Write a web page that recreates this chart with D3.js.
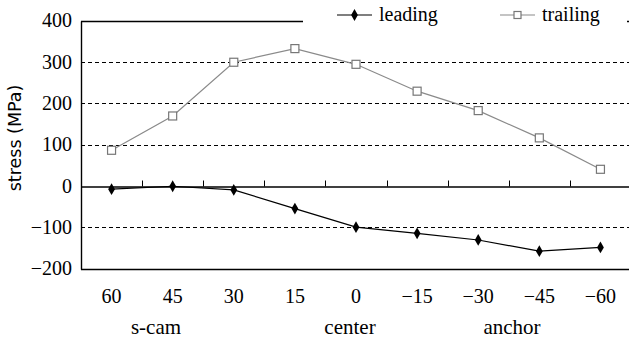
<!DOCTYPE html>
<html>
<head>
<meta charset="utf-8">
<script src="https://cdn.jsdelivr.net/npm/d3@7"></script>
</head>
<body style="margin:0">
<svg id="chart" width="629" height="343" font-family="Liberation Serif"></svg>
<script>
// Stress along the blade edge, by angular position
const categories = ["60", "45", "30", "15", "0", "\u221215", "\u221230", "\u221245", "\u221260"];
const leading = [-8, -1, -10, -55, -100, -115, -131, -158, -149];
const trailing = [86, 169, 299, 332, 294, 229, 182, 116, 40];
const yTicks = [400, 300, 200, 100, 0, -100, -200];
const gridValues = [300, 200, 100, -100];
const zoneLabels = ["s-cam", "center", "anchor"];
const seriesNames = ["leading", "trailing"];

const SERIF = '"Liberation Serif"';
const svg = d3.select("#chart");
const plotLeft = 81, plotRight = 631, plotTop = 20.5, plotBottom = 268.5;

const x = d3.scaleBand().domain(categories).range([plotLeft, plotRight]).padding(0);
const y = d3.scaleLinear().domain([-200, 400]).range([plotBottom, plotTop]);
const cx = d => x(d) + x.bandwidth() / 2;
const snap = v => Math.round(v) + 0.5;

function serifText(sel, size) {
  return sel.attr("font-size", size).attr("font-family", "Liberation Serif")
    .style("font-family", SERIF).attr("fill", "#000");
}

// dashed horizontal grid
svg.append("g").selectAll("line").data(gridValues).join("line")
  .attr("x1", plotLeft).attr("x2", 629)
  .attr("y1", d => snap(y(d))).attr("y2", d => snap(y(d)))
  .attr("stroke", "#000").attr("stroke-width", 1.2).attr("stroke-dasharray", "4,3");

// frame: top, bottom, left
[400, -200].forEach(v => {
  svg.append("line").attr("x1", plotLeft).attr("x2", 629).attr("y1", snap(y(v))).attr("y2", snap(y(v)))
    .attr("stroke", "#000").attr("stroke-width", 1.4);
});
svg.append("line").attr("x1", plotLeft + 0.5).attr("x2", plotLeft + 0.5).attr("y1", snap(y(400))).attr("y2", snap(y(-200)))
  .attr("stroke", "#000").attr("stroke-width", 1.4);

// category axis along zero, ticks pointing upward
const xAxis = d3.axisTop(x).tickSize(6).tickFormat("").tickSizeOuter(0);
const gx = svg.append("g").attr("transform", `translate(0,${snap(y(0))})`).call(xAxis);
gx.select(".domain").attr("stroke", "#000").attr("stroke-width", 1.4);
gx.selectAll(".tick").attr("transform", d => `translate(${snap(x(d))},0)`);
gx.selectAll(".tick line").attr("stroke", "#000");

// y tick labels
const yAxis = d3.axisLeft(y).tickValues(yTicks).tickSize(0).tickPadding(9)
  .tickFormat(d => d < 0 ? "\u2212" + Math.abs(d) : String(d));
const gy = svg.append("g").attr("transform", `translate(${plotLeft},0)`).call(yAxis);
gy.attr("font-family", "Liberation Serif").attr("font-size", 20);
gy.select(".domain").remove();
serifText(gy.selectAll("text"), 20);

// x tick labels below the plot
serifText(svg.append("g").selectAll("text").data(categories).join("text"), 20)
  .attr("x", d => cx(d)).attr("y", 303)
  .attr("text-anchor", "middle")
  .text(d => d);

// zone labels
const zonePos = [156, 350, 512];
serifText(svg.append("g").selectAll("text").data(zoneLabels).join("text"), 21)
  .attr("x", (d, i) => zonePos[i]).attr("y", 334)
  .attr("text-anchor", "middle")
  .text(d => d);

// y axis title
svg.append("text")
  .attr("transform", "translate(21,138) rotate(-90)")
  .attr("text-anchor", "middle").attr("font-size", 17.5)
  .attr("font-family", "DejaVu Sans")
  .style("font-family", '"DejaVu Sans"')
  .text("stress (MPa)");

const line = d3.line().x((d, i) => cx(categories[i])).y(d => y(d));

// trailing series
svg.append("path").datum(trailing).attr("d", line)
  .attr("fill", "none").attr("stroke", "#8a8a8a").attr("stroke-width", 1.2);
svg.append("g").selectAll("rect").data(trailing).join("rect")
  .attr("x", (d, i) => cx(categories[i]) - 4).attr("y", d => y(d) - 4)
  .attr("width", 8).attr("height", 8)
  .attr("fill", "#fff").attr("stroke", "#777").attr("stroke-width", 1.2);

// leading series
svg.append("path").datum(leading).attr("d", line)
  .attr("fill", "none").attr("stroke", "#000").attr("stroke-width", 1.2);
const diamond = d3.symbol().type(d3.symbolDiamond).size(40);
svg.append("g").selectAll("path").data(leading).join("path")
  .attr("d", diamond)
  .attr("transform", (d, i) => `translate(${cx(categories[i])},${y(d)})`)
  .attr("fill", "#000");

// legend
const lg = svg.append("g");
lg.append("rect").attr("x", 303).attr("y", 0).attr("width", 324).attr("height", 32).attr("fill", "#fff");
const legendItems = [
  { name: seriesNames[0], x0: 337, tx: 379 },
  { name: seriesNames[1], x0: 500, tx: 542 }
];
legendItems.forEach((it, k) => {
  lg.append("line").attr("x1", it.x0).attr("x2", it.x0 + 35).attr("y1", 15).attr("y2", 15)
    .attr("stroke", k === 0 ? "#000" : "#8a8a8a").attr("stroke-width", 1.2);
  if (k === 0) {
    lg.append("path").attr("d", diamond).attr("transform", `translate(${it.x0 + 17.5},15)`).attr("fill", "#000");
  } else {
    lg.append("rect").attr("x", it.x0 + 14).attr("y", 11.5).attr("width", 7).attr("height", 7)
      .attr("fill", "#fff").attr("stroke", "#777").attr("stroke-width", 1.2);
  }
  serifText(lg.append("text"), 20).attr("x", it.tx).attr("y", 21).text(it.name);
});
</script>
</body>
</html>
